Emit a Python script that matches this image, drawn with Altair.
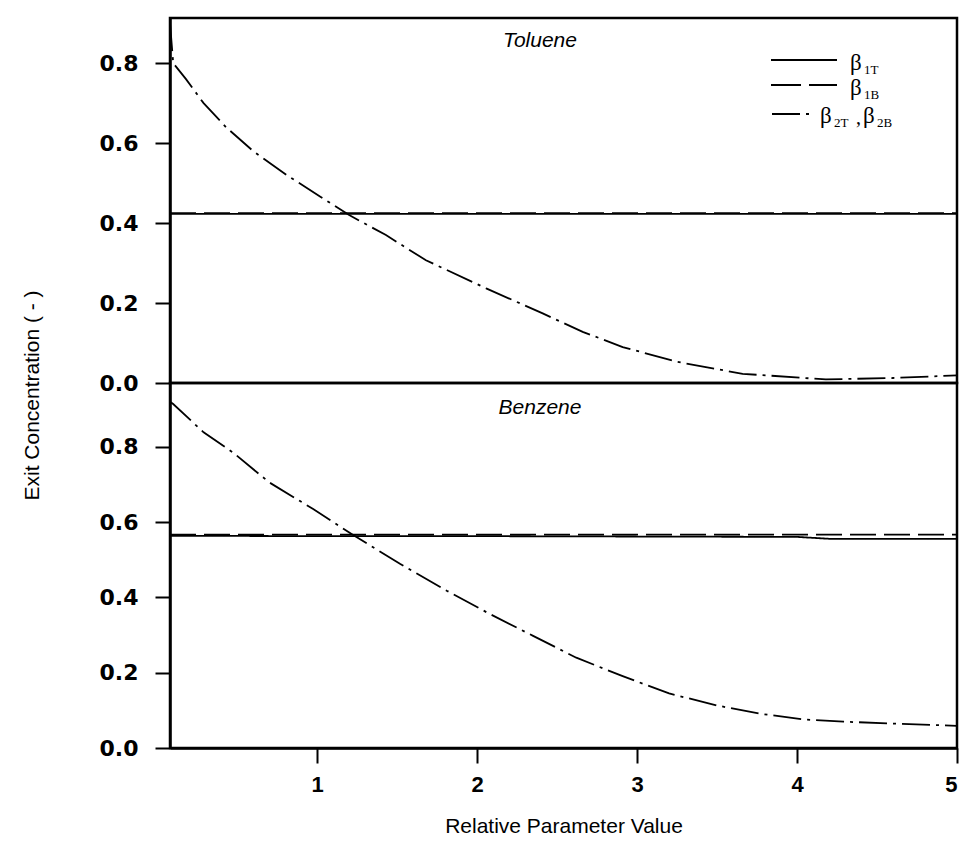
import altair as alt
import pandas as pd

# ---------------- data ----------------
x_ticks = [1, 2, 3, 4, 5]
y_ticks = [0.0, 0.2, 0.4, 0.6, 0.8]
series_names = ["β1T", "β1B", "β2T, β2B"]

# Toluene panel
tol_curve_x = [0.08, 0.10, 0.18, 0.29, 0.43, 0.60, 0.81, 1.02, 1.20, 1.43, 1.68,
               2.06, 2.27, 2.41, 2.66, 2.91, 3.25, 3.66, 4.18, 4.60, 5.00]
tol_beta2 = [0.90, 0.80, 0.76, 0.70, 0.64, 0.58, 0.52, 0.466, 0.42, 0.37, 0.307,
             0.236, 0.199, 0.174, 0.128, 0.090, 0.053, 0.023, 0.009, 0.0125, 0.019]
tol_h_x = [0.08, 5.00]
tol_beta1T = [0.423, 0.423]
tol_beta1B = [0.425, 0.425]

# Benzene panel
ben_curve_x = [0.08, 0.10, 0.29, 0.475, 0.70, 0.975, 1.225, 1.52, 1.81, 2.08, 2.35,
               2.62, 2.91, 3.20, 3.50, 3.77, 4.04, 4.29, 4.60, 5.00]
ben_beta2 = [0.92, 0.914, 0.839, 0.785, 0.706, 0.635, 0.566, 0.489, 0.418, 0.356, 0.298,
             0.240, 0.191, 0.145, 0.113, 0.091, 0.076, 0.070, 0.065, 0.059]
ben_h_x = [0.08, 1.0, 2.0, 3.0, 4.0, 4.2, 5.0]
ben_beta1T = [0.564, 0.563, 0.563, 0.562, 0.561, 0.556, 0.556]
ben_beta1B = [0.567, 0.567, 0.567, 0.567, 0.567, 0.567, 0.567]

panel_names = ["Toluene", "Benzene"]

rows = []
def add(panel, series, xs, ys):
    for a, b in zip(xs, ys):
        rows.append({"panel": panel, "series": series, "x": a, "y": b})

add("Toluene", series_names[0], tol_h_x, tol_beta1T)
add("Toluene", series_names[1], tol_h_x, tol_beta1B)
add("Toluene", series_names[2], tol_curve_x, tol_beta2)
add("Benzene", series_names[0], ben_h_x, ben_beta1T)
add("Benzene", series_names[1], ben_h_x, ben_beta1B)
add("Benzene", series_names[2], ben_curve_x, ben_beta2)
df = pd.DataFrame(rows)

# ---------------- styling ----------------
W = 787
H = 365
X_DOMAIN = [0.08, 5.0]
DASHES = [[1, 0], [26, 8], [28, 6, 3, 6]]
BLACK = "#000000"


def txt(s, x, y, size, font="Liberation Serif", style="normal", align="left"):
    return alt.Chart(pd.DataFrame({"t": [s]})).mark_text(
        text=s, font=font, fontSize=size, fontStyle=style, align=align,
        baseline="middle", color=BLACK
    ).encode(x=alt.value(x), y=alt.value(y))


def seg(x1, x2, y, dash):
    return alt.Chart(pd.DataFrame({"t": [0]})).mark_rule(
        color=BLACK, strokeWidth=1.8, strokeDash=dash
    ).encode(x=alt.value(x1), x2=alt.value(x2), y=alt.value(y))


def panel(name, ymax, show_x, y_title):
    if show_x:
        xaxis = alt.Axis(values=x_ticks, format="d", title="Relative Parameter Value",
                         labelFont="Liberation Sans", labelFontWeight="bold",
                         labelFontSize=22, tickSize=15, labelPadding=11,
                         titleFont="Liberation Sans Narrow, Liberation Sans", titleFontSize=21,
                         titleFontWeight="normal", titlePadding=20)
    else:
        xaxis = None
    if y_title:
        yaxis = alt.Axis(values=y_ticks, format=".1f", title="Exit Concentration ( - )",
                         titleX=-138, titleY=377, titleAlign="center",
                         titleBaseline="middle", titleAngle=270,
                         titleFont="Liberation Sans Narrow, Liberation Sans", titleFontSize=21,
                         titleFontWeight="normal")
    else:
        yaxis = alt.Axis(values=y_ticks, format=".1f", title=None)
    lines = alt.Chart(df).transform_filter(alt.datum.panel == name).mark_line(
        color=BLACK, strokeWidth=1.8, clip=True
    ).encode(
        x=alt.X("x:Q", scale=alt.Scale(domain=X_DOMAIN, nice=False, zero=False), axis=xaxis),
        y=alt.Y("y:Q", scale=alt.Scale(domain=[0, ymax], nice=False, zero=True), axis=yaxis),
        strokeDash=alt.StrokeDash("series:N", scale=alt.Scale(domain=series_names, range=DASHES),
                                  legend=None),
        detail="series:N",
    )
    return lines


top_lines = panel("Toluene", 0.913, False, True)
bot_lines = panel("Benzene", 0.97, True, False)

legend = [
    seg(601, 667, 42, DASHES[0]),
    txt("β", 680, 45, 23),
    txt("1T", 694, 52, 13),
    seg(601, 667, 67, [30, 8]),
    txt("β", 680, 70, 23),
    txt("1B", 694, 77, 13),
    seg(602, 644, 96, DASHES[2]),
    txt("β", 650, 98, 23),
    txt("2T", 664, 105, 13),
    txt(",", 686, 100, 20),
    txt("β", 693, 98, 23),
    txt("2B", 707, 105, 13),
]

top = alt.layer(
    top_lines,
    txt(panel_names[0], 370, 23, 21, font="Liberation Sans", style="italic", align="center"),
    *legend,
).properties(width=W, height=H)

bottom = alt.layer(
    bot_lines,
    txt(panel_names[1], 370, 25, 21, font="Liberation Sans", style="italic", align="center"),
).properties(width=W, height=H)

chart = alt.vconcat(top, bottom, spacing=0, bounds="flush").properties(
    padding={"left": 19, "top": 16, "right": 5, "bottom": 10},
    background="white",
).configure_view(
    stroke=BLACK, strokeWidth=2.5
).configure_axis(
    domainColor=BLACK, domainWidth=2.5, tickColor=BLACK, tickWidth=2,
    labelColor=BLACK, titleColor=BLACK, grid=False,
).configure_axisY(
    labelFont="DejaVu Sans", labelFontWeight="bold", labelFontSize=22,
    tickSize=15, labelPadding=17,
)

chart.save("out.html", embed_options={"renderer": "svg", "actions": False})
